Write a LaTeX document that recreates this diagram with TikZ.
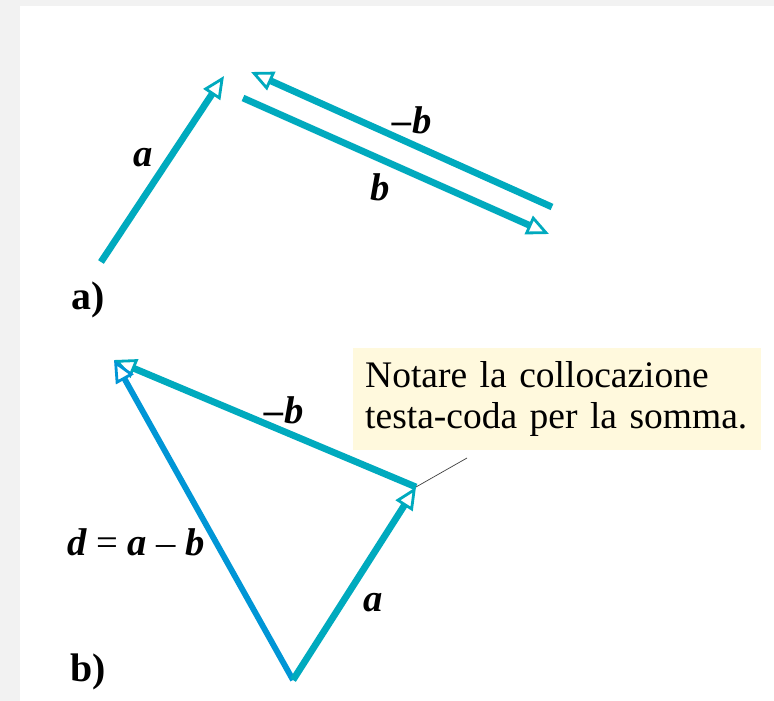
\documentclass[tikz,border=0pt]{standalone}
\usepackage{fontspec}
\setmainfont{Liberation Serif}
\usetikzlibrary{arrows.meta}
\definecolor{vecteal}{RGB}{0,170,190}
\definecolor{vecblue}{RGB}{0,150,214}
\definecolor{notebg}{RGB}{255,249,221}
\definecolor{pagegray}{RGB}{242,242,242}
\begin{document}
\begin{tikzpicture}[x=0.03cm, y=-0.03cm,
  >={Triangle[length=19pt, width=17pt, line width=2.4pt, fill=white]},
  vec/.style={->, line width=5.8pt, draw=vecteal},
  vecd/.style={->, line width=5pt, draw=vecblue},
  lbl/.style={font=\fontsize{33}{36}\selectfont\bfseries\itshape},
  part/.style={font=\fontsize{34}{38}\selectfont\bfseries}]
\useasboundingbox (0,0) rectangle (774,701);
\fill[pagegray] (0,0) rectangle (774,701);
\fill[white] (20,6) rectangle (774,701);

% a) the two vectors apart
\coordinate (a0) at (101,262);
\coordinate (a1) at (224,76);
\coordinate (mb0) at (552,207);
\coordinate (mb1) at (251,72);
\coordinate (b0) at (243,98);
\coordinate (b1) at (549,234);

\draw[vec] (a0) -- (a1);
\draw[vec] (mb0) -- (mb1);
\draw[vec] (b0) -- (b1);

\node[lbl] (la) at (143,158) {a};
\node[lbl] (lmb) at (412,120) {–b};
\node[lbl] (lb) at (380,187) {b};
\node[part] (pa) at (88,300) {a)};

% b) head to tail
\coordinate (o) at (293,680);
\coordinate (p) at (416,487);
\coordinate (q) at (114,360);

\draw[vec] (p) -- (q);
\draw[vecd] (o) -- (q);
\draw[vec] (o) -- (p);

\node[lbl] (lmb2) at (284,410) {–b};
\node[lbl, anchor=base] (ld) at (136,555) {d {\upshape\mdseries=} a {\upshape\mdseries–} b};
\node[lbl] (la2) at (373,603) {a};
\node[part] (pb) at (88,672) {b)};

\node[fill=notebg, anchor=north west, minimum height=3.06cm,
      text width=11.5cm, align=left, inner xsep=0.36cm,
      font=\fontsize{32}{35}\selectfont] (note) at (353,348)
  {Notare la collocazione\\testa-coda per la somma.};
\coordinate (tip) at (467,458);
\draw[black!75, line width=0.6pt] (p) -- (tip);
\end{tikzpicture}
\end{document}
